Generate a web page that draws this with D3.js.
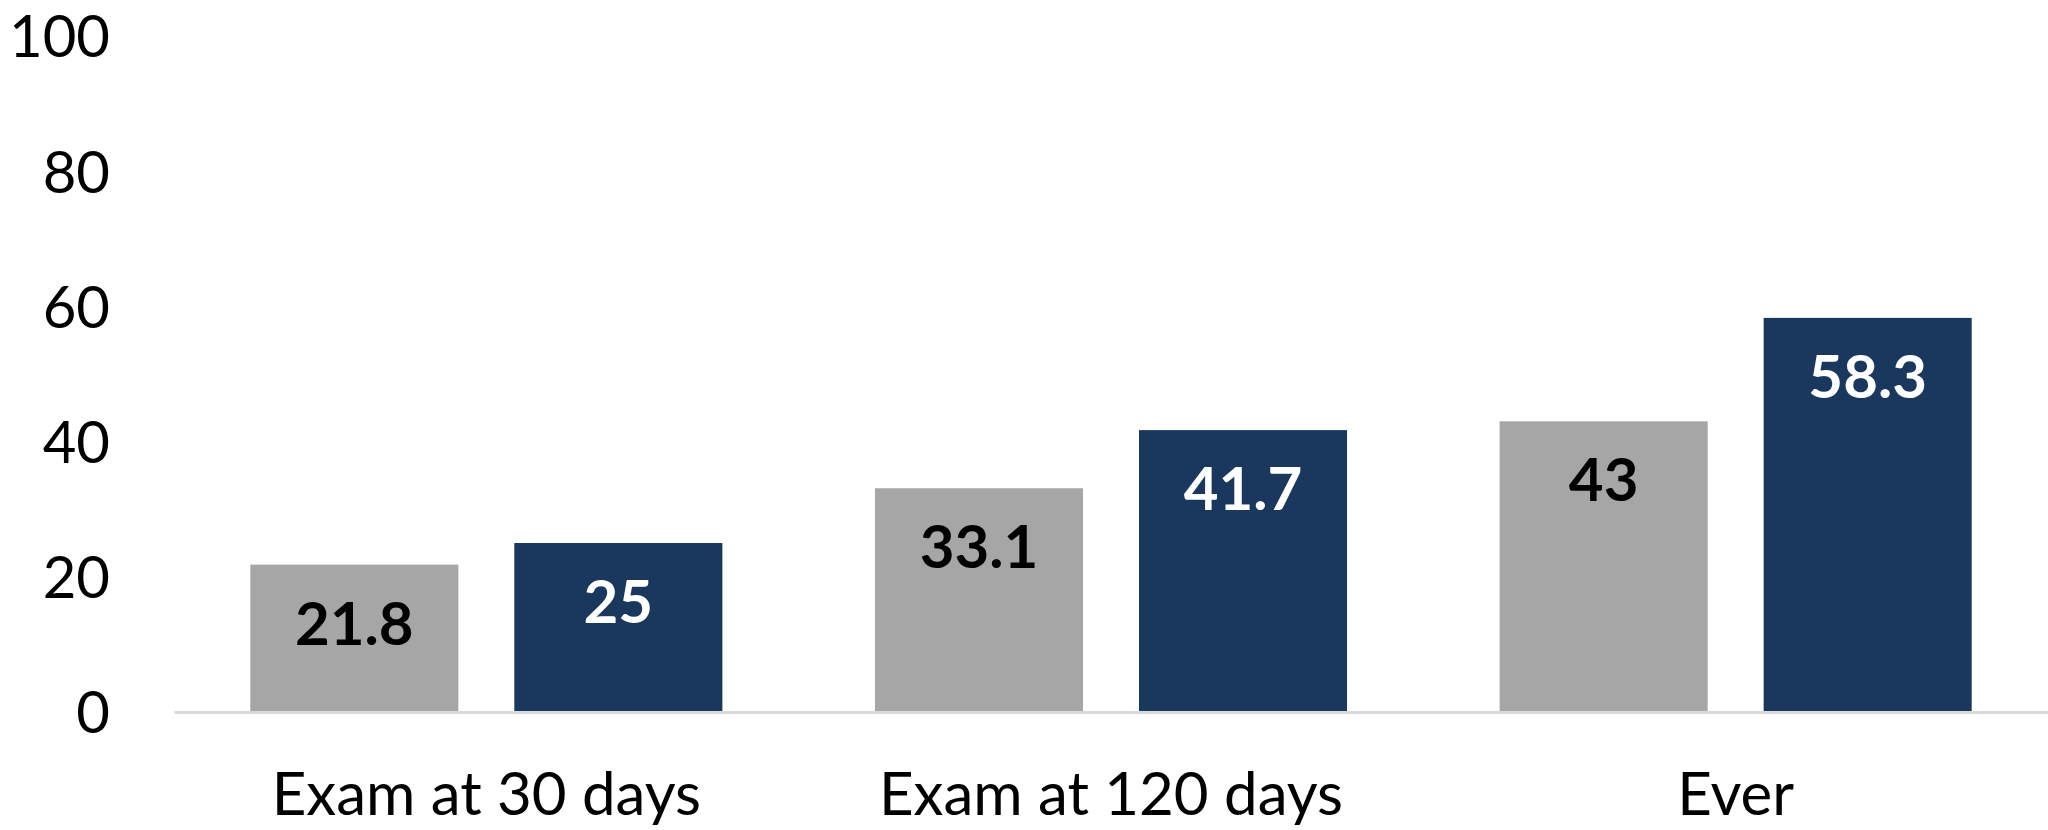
<!DOCTYPE html>
<html>
<head>
<meta charset="utf-8">
<script src="https://cdn.jsdelivr.net/npm/d3@7"></script>
<style>
  html, body { margin: 0; padding: 0; background: #ffffff; }
  svg { display: block; }
  text { font-family: Lato, "Noto Sans", sans-serif; }
</style>
</head>
<body>
<svg id="chart" width="2048" height="830"></svg>
<script>
// Categories, series and values
const categories = ["Exam at 30 days", "Exam at 120 days", "Ever"];
const seriesNames = ["Comparison", "Program"];
const comparisonValues = [21.8, 33.1, 43];
const programValues = [25, 41.7, 58.3];
const yTicks = [0, 20, 40, 60, 80, 100];

const seriesColors = ["#a6a6a6", "#1a375e"];
const labelColors = ["#000000", "#ffffff"];

const rows = categories.map((c, i) => ({
  category: c,
  values: [comparisonValues[i], programValues[i]]
}));

const width = 2048, height = 830;
const plotLeft = 174, plotRight = 2048, plotTop = 36, plotBottom = 712;

const svg = d3.select("#chart");

const x0 = d3.scaleBand()
  .domain(categories)
  .range([plotLeft, plotRight])
  .padding(0);

const x1 = d3.scaleBand()
  .domain(seriesNames)
  .range([0, x0.bandwidth()])
  .paddingInner(0.212)
  .paddingOuter(0.289);

const y = d3.scaleLinear()
  .domain([0, 100])
  .range([plotBottom, plotTop]);

// Y axis: tick labels only
const yAxis = d3.axisLeft(y).tickValues(yTicks).tickSize(0).tickPadding(0);
const gy = svg.append("g")
  .attr("transform", `translate(110,0)`)
  .call(yAxis);
gy.select(".domain").remove();
gy.selectAll("text")
  .attr("x", 0)
  .attr("dy", "0.36em")
  .style("font-family", "Lato, 'Noto Sans', sans-serif")
  .style("font-size", "58px")
  .attr("fill", "#000");

// Bars
const groups = svg.append("g")
  .selectAll("g")
  .data(rows)
  .join("g")
  .attr("transform", d => `translate(${x0(d.category)},0)`);

groups.selectAll("rect")
  .data(d => d.values.map((v, k) => ({ key: seriesNames[k], value: v, k })))
  .join("rect")
  .attr("x", d => x1(d.key))
  .attr("y", d => y(d.value))
  .attr("width", x1.bandwidth())
  .attr("height", d => y(0) - y(d.value))
  .attr("fill", d => seriesColors[d.k]);

// Value labels inside the top of each bar
groups.selectAll("text.value")
  .data(d => d.values.map((v, k) => ({ key: seriesNames[k], value: v, k })))
  .join("text")
  .attr("class", "value")
  .attr("x", d => x1(d.key) + x1.bandwidth() / 2)
  .attr("y", d => y(d.value) + 80)
  .attr("text-anchor", "middle")
  .style("font-size", "60px")
  .style("font-weight", "700")
  .attr("fill", d => labelColors[d.k])
  .text(d => d.value);

// Category axis
const xAxis = d3.axisBottom(x0).tickSize(0).tickPadding(0);
const gx = svg.append("g")
  .attr("transform", `translate(0,${plotBottom})`)
  .call(xAxis);
gx.select(".domain")
  .attr("stroke", "#d9d9d9")
  .attr("stroke-width", 3);
gx.selectAll("text")
  .attr("y", 103)
  .attr("dy", 0)
  .style("font-family", "Lato, 'Noto Sans', sans-serif")
  .style("font-size", "60px")
  .attr("fill", "#000");
</script>
</body>
</html>
